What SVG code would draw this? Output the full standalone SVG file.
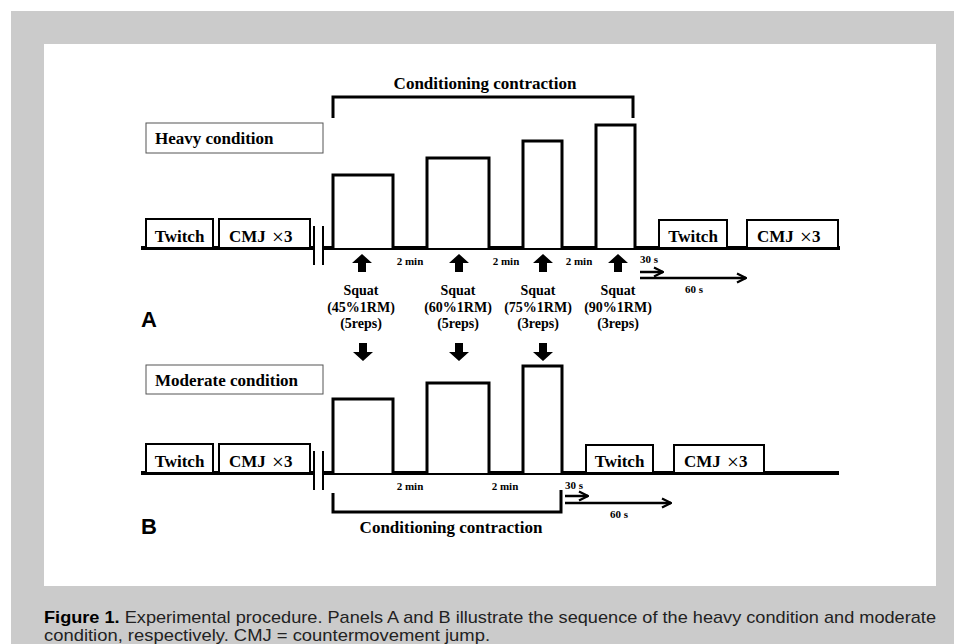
<svg xmlns="http://www.w3.org/2000/svg" width="954" height="644" viewBox="0 0 954 644">
<style>
.t{font-family:"Liberation Serif","Times New Roman",serif;font-weight:bold;fill:#000}
.lbl{font-size:17px}
.x{font-weight:normal;font-size:21px}
.sq{font-size:14px;text-anchor:middle}
.sm{font-size:11px;text-anchor:middle}
.big{font-size:17px;text-anchor:middle}
.bar{fill:#fff;stroke:#000;stroke-width:3}
.box{fill:#fff;stroke:#000;stroke-width:2}
.cbox{fill:#fff;stroke:#555;stroke-width:1}
.base{stroke:#000;stroke-width:4;fill:none}
.brk{stroke:#000;stroke-width:2;fill:none}
.brace{stroke:#000;stroke-width:3;fill:none}
.ar{stroke:#000;stroke-width:2.5;fill:none}
.panel{font-family:"Liberation Sans",Arial,sans-serif;font-weight:bold;font-size:22px;fill:#000}
.cap{font-family:"Liberation Sans",Arial,sans-serif;font-size:17px;fill:#222}
</style>
<defs>
<polygon id="up" points="0,0 10,9 4,9 4,18 -4,18 -4,9 -10,9"/>
<polygon id="down" points="0,18 10,9 4,9 4,0 -4,0 -4,9 -10,9"/>
<marker id="ah" viewBox="0 0 10 10" refX="9" refY="5" markerWidth="4.5" markerHeight="4.5" orient="auto" markerUnits="strokeWidth">
<path d="M1,1 L9,5 L1,9" fill="none" stroke="#000" stroke-width="2"/>
</marker>
</defs>
<rect x="0" y="0" width="954" height="644" fill="#fff"/>
<rect x="11" y="11" width="943" height="633" fill="#cbcbcb"/>
<rect x="44" y="44" width="892" height="542" fill="#fff"/>

<!-- Panel A -->
<g id="panelA-title">
<text class="t big" x="485" y="89">Conditioning  contraction</text>
<path class="brace" d="M333,118 V97 H633 V118"/>
</g>
<g id="heavy-label"><rect class="cbox" x="146" y="123" width="177" height="30"/><text class="t lbl" x="155" y="144">Heavy condition</text></g>
<g id="timeline-a">
<path class="base" d="M141,248 H314 M323,248 H840"/>
<path class="brk" d="M314,226 V265 M323,226 V265"/>
</g>
<g id="twitch-a1"><rect class="box" x="146" y="219" width="67" height="29"/><text class="t lbl" x="179.5" y="242" text-anchor="middle">Twitch</text></g>
<g id="cmj-a1"><rect class="box" x="219" y="219" width="91" height="29"/><text class="t lbl" x="229" y="242">CMJ <tspan class="x" dx="2" dy="2">×</tspan><tspan dy="-2">3</tspan></text></g>
<g id="bar-a1"><path class="bar" d="M333,248 V175 H393 V248"/></g>
<g id="bar-a2"><path class="bar" d="M427,248 V158 H489 V248"/></g>
<g id="bar-a3"><path class="bar" d="M523,248 V141 H562 V248"/></g>
<g id="bar-a4"><path class="bar" d="M596,248 V125 H635 V248"/></g>
<g id="twitch-a2"><rect class="box" x="659" y="220" width="68" height="28"/><text class="t lbl" x="693" y="242" text-anchor="middle">Twitch</text></g>
<g id="cmj-a2"><rect class="box" x="747" y="220" width="91" height="28"/><text class="t lbl" x="757" y="242">CMJ <tspan class="x" dx="2" dy="2">×</tspan><tspan dy="-2">3</tspan></text></g>
<g id="times-a">
<text class="t sm" x="410" y="265">2 min</text>
<text class="t sm" x="506" y="265">2 min</text>
<text class="t sm" x="579" y="265">2 min</text>
<text class="t sm" x="649" y="263">30 s</text>
<text class="t sm" x="694" y="293">60 s</text>
</g>
<g id="squat-labels">
<text class="t sq" x="361" y="295">Squat</text><text class="t sq" x="361" y="312">(45%1RM)</text><text class="t sq" x="361" y="328">(5reps)</text>
<text class="t sq" x="458" y="295">Squat</text><text class="t sq" x="458" y="312">(60%1RM)</text><text class="t sq" x="458" y="328">(5reps)</text>
<text class="t sq" x="538" y="295">Squat</text><text class="t sq" x="538" y="312">(75%1RM)</text><text class="t sq" x="538" y="328">(3reps)</text>
<text class="t sq" x="618" y="295">Squat</text><text class="t sq" x="618" y="312">(90%1RM)</text><text class="t sq" x="618" y="328">(3reps)</text>
</g>
<text id="label-A" class="panel" x="141" y="327">A</text>

<!-- Panel B -->
<g id="moderate-label"><rect class="cbox" x="146" y="365" width="177" height="29"/><text class="t lbl" x="155" y="386">Moderate condition</text></g>
<g id="timeline-b">
<path class="base" d="M141,473 H314 M323,473 H839"/>
<path class="brk" d="M314,451 V490 M323,451 V490"/>
</g>
<g id="twitch-b1"><rect class="box" x="146" y="444" width="67" height="29"/><text class="t lbl" x="179.5" y="467" text-anchor="middle">Twitch</text></g>
<g id="cmj-b1"><rect class="box" x="219" y="444" width="91" height="29"/><text class="t lbl" x="229" y="467">CMJ <tspan class="x" dx="2" dy="2">×</tspan><tspan dy="-2">3</tspan></text></g>
<g id="bar-b1"><path class="bar" d="M333,473 V399 H393 V473"/></g>
<g id="bar-b2"><path class="bar" d="M427,473 V383 H489 V473"/></g>
<g id="bar-b3"><path class="bar" d="M523,473 V366 H562 V473"/></g>
<g id="twitch-b2"><rect class="box" x="586" y="445" width="67" height="28"/><text class="t lbl" x="619.5" y="467" text-anchor="middle">Twitch</text></g>
<g id="cmj-b2"><rect class="box" x="674" y="445" width="90" height="28"/><text class="t lbl" x="684" y="467">CMJ <tspan class="x" dx="2" dy="2">×</tspan><tspan dy="-2">3</tspan></text></g>
<g id="times-b">
<text class="t sm" x="410" y="490">2 min</text>
<text class="t sm" x="505" y="490">2 min</text>
<text class="t sm" x="574" y="489">30 s</text>
<text class="t sm" x="619" y="518">60 s</text>
</g>
<g id="panelB-title">
<path class="brace" d="M333,493 V512 H561 V490"/>
<text class="t big" x="451" y="533">Conditioning  contraction</text>
</g>
<text id="label-B" class="panel" x="141" y="534">B</text>

<g id="connectors">
<use href="#up" x="362" y="254"/>
<use href="#up" x="459" y="254"/>
<use href="#up" x="543" y="254"/>
<use href="#up" x="618" y="254"/>
<use href="#down" x="363" y="343"/>
<use href="#down" x="459" y="343"/>
<use href="#down" x="543" y="343"/>
<path class="ar" d="M640,272 H663" marker-end="url(#ah)"/>
<path class="ar" d="M640,278 H746" marker-end="url(#ah)"/>
<path class="ar" d="M565,496 H588" marker-end="url(#ah)"/>
<path class="ar" d="M565,503 H671" marker-end="url(#ah)"/>
</g>

<g id="caption">
<text class="cap" x="44" y="623" textLength="892" lengthAdjust="spacingAndGlyphs"><tspan font-weight="bold" fill="#000">Figure 1.</tspan> Experimental procedure. Panels A and B illustrate the sequence of the heavy condition and moderate</text>
<text class="cap" x="44" y="641" textLength="446" lengthAdjust="spacingAndGlyphs">condition, respectively. CMJ = countermovement jump.</text>
</g>
</svg>
